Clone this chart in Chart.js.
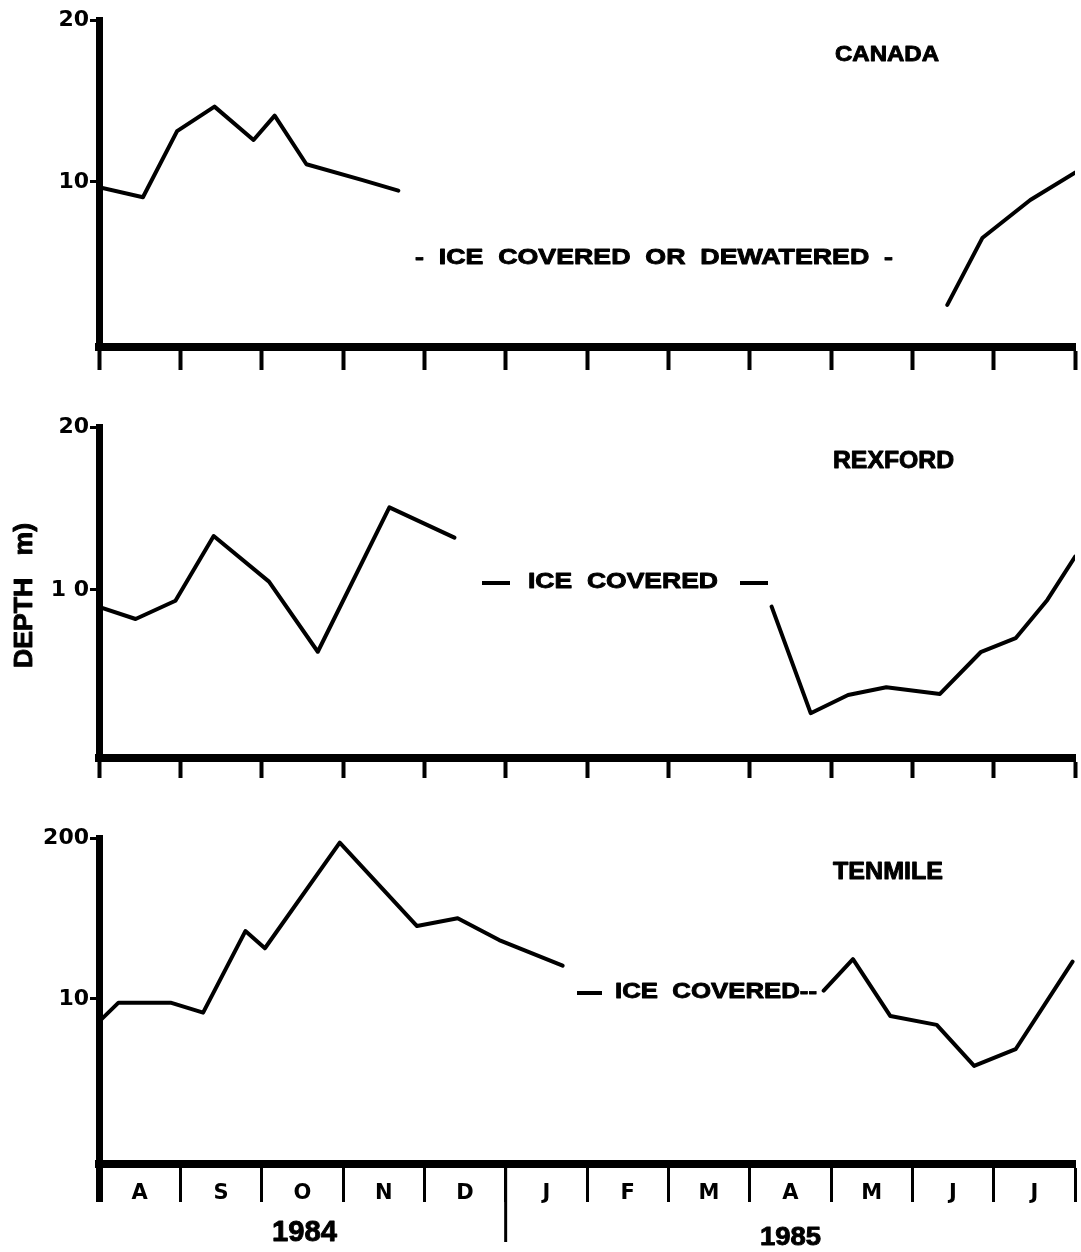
<!DOCTYPE html>
<html><head><meta charset="utf-8">
<script src="https://cdn.jsdelivr.net/npm/chart.js@4.4.1/dist/chart.umd.min.js"></script>
<style>
html,body{margin:0;padding:0;background:#fff;width:1081px;height:1252px;overflow:hidden}
canvas{position:absolute;left:0}
</style></head><body>
<canvas id="c1" width="1081" height="400" style="top:0px"></canvas>
<canvas id="c2" width="1081" height="400" style="top:400px"></canvas>
<canvas id="c3" width="1081" height="452" style="top:800px"></canvas>
<script>
// ---- data (months from start of August 1984) ----
const months = ['A','S','O','N','D','J','F','M','A','M','J','J'];
const years = ['1984','1985'];

const canadaFallMonth = [0.0, 0.54, 0.96, 1.42, 1.90, 2.16, 2.55, 3.23, 3.68];
const canadaFallDepth = [9.67, 9.05, 13.14, 14.65, 12.59, 14.09, 11.09, 10.12, 9.46];
const canadaSpringMonth = [10.43, 10.86, 11.45, 12.0];
const canadaSpringDepth = [2.40, 6.53, 8.88, 10.57];

const rexfordFallMonth = [0.0, 0.45, 0.94, 1.41, 2.09, 2.69, 3.57, 4.37];
const rexfordFallDepth = [8.96, 8.22, 9.34, 13.31, 10.51, 6.21, 15.07, 13.21];
const rexfordSpringMonth = [8.27, 8.75, 9.21, 9.68, 10.34, 10.84, 11.27, 11.66, 12.0];
const rexfordSpringDepth = [8.98, 2.44, 3.56, 4.03, 3.62, 6.18, 7.04, 9.39, 12.04];

const tenmileFallMonth = [0.0, 0.24, 0.88, 1.28, 1.80, 2.04, 2.96, 3.91, 4.41, 4.92, 5.70];
const tenmileFallDepth = [8.59, 9.77, 9.77, 9.15, 14.22, 13.15, 19.71, 14.53, 15.01, 13.66, 12.07];
const tenmileSpringMonth = [8.91, 9.27, 9.73, 10.30, 10.76, 11.27, 11.97];
const tenmileSpringDepth = [10.52, 12.47, 8.94, 8.39, 5.84, 6.88, 12.32];

const canadaYTicks = ['10', '20'];
const rexfordYTicks = ['1 0', '20'];
const tenmileYTicks = ['10', '200'];

const panelNames = ['CANADA', 'REXFORD', 'TENMILE'];
const iceNotes = ['-  ICE  COVERED  OR  DEWATERED  -', 'ICE  COVERED', 'ICE  COVERED--'];
const yTitle = 'DEPTH   m)';

// ---- helpers ----
const FONT = '"Liberation Sans", Arial, Helvetica, sans-serif';
function pts(xs, ys){ return xs.map((x,i)=>({x:x, y:ys[i]})); }
function fitText(ctx, text, left, right, baseline, size){
  ctx.save();
  ctx.font = 'bold ' + size + 'px ' + FONT;
  ctx.textAlign = 'left'; ctx.textBaseline = 'alphabetic';
  ctx.fillStyle = '#000'; ctx.strokeStyle = '#000'; ctx.lineWidth = 0.9; ctx.lineJoin = 'round';
  const w = ctx.measureText(text).width;
  ctx.translate(left, baseline);
  ctx.scale((right-left)/w, 1);
  ctx.fillText(text, 0, 0);
  ctx.strokeText(text, 0, 0);
  ctx.restore();
}
function hline(ctx, x1, x2, y){
  ctx.save(); ctx.strokeStyle='#000'; ctx.lineWidth=4; ctx.lineCap='butt';
  ctx.beginPath(); ctx.moveTo(x1,y); ctx.lineTo(x2,y); ctx.stroke(); ctx.restore();
}

function makePanel(id, cfg){
  const ds = cfg.segments.map(s => ({
    data: s, borderColor:'#000', borderWidth:4, pointRadius:0, tension:0,
    borderCapStyle:'round', borderJoinStyle:'round', fill:false
  }));
  return new Chart(document.getElementById(id), {
    type:'line',
    data:{ datasets: ds },
    options:{
      responsive:false, animation:false, devicePixelRatio:1,
      layout:{ padding:{ top:cfg.top, right:6, left:0, bottom:0 } },
      plugins:{ legend:{display:false}, tooltip:{enabled:false} },
      scales:{
        x:{
          type:'linear', min:0, max:12,
          afterFit: s => { s.height = cfg.xAxisHeight; },
          afterBuildTicks: s => {
            const t = [];
            for (let i=0;i<=12;i+=cfg.step) t.push({value:i});
            s.ticks = t;
          },
          border:{ display:true, color:'#000', width:8 },
          grid:{ drawOnChartArea:false, drawTicks:true, tickLength:cfg.tickLength,
            tickColor: c => Number.isInteger(c.tick.value) ? '#000' : 'rgba(0,0,0,0)',
            tickWidth: c => (c.tick.value===0 && cfg.monthLabels) ? 7 : cfg.tickWidth },
          ticks:{ autoSkip:false, maxRotation:0, minRotation:0, padding:cfg.labelPad,
            color:'#000', font:{ family:'"DejaVu Sans", sans-serif', weight:'bold', size:21 },
            callback: v => (cfg.monthLabels && !Number.isInteger(v)) ? months[Math.floor(v)] : '' }
        },
        y:{
          type:'linear', min:cfg.yMin, max:20,
          afterFit: s => { s.width = 99; },
          afterBuildTicks: s => { s.ticks = [{value:10},{value:20}]; },
          border:{ display:true, color:'#000', width:7 },
          grid:{ drawOnChartArea:false, drawTicks:true, tickLength:9, tickWidth:3, tickColor:'#000' },
          ticks:{ padding:1, color:'#000', font:{ family:'"DejaVu Sans", sans-serif', weight:'bold', size:22 },
            callback: v => cfg.yLabels[v===10 ? 0 : 1] }
        }
      }
    },
    plugins:[{ id:'annot', afterDraw: chart => cfg.annotate(chart, chart.ctx, cfg.offset) }]
  });
}

makePanel('c1', {
  offset:0, top:20, xAxisHeight:53, yMin:-0.2, step:1, tickLength:23, tickWidth:4,
  labelPad:0, monthLabels:false, yLabels:canadaYTicks,
  segments:[pts(canadaFallMonth, canadaFallDepth), pts(canadaSpringMonth, canadaSpringDepth)],
  annotate:(chart, ctx, T) => {
    fitText(ctx, panelNames[0], 835, 939, 61-T, 22);
    fitText(ctx, iceNotes[0], 415, 893, 264-T, 22);
  }
});

makePanel('c2', {
  offset:400, top:27, xAxisHeight:42, yMin:-0.31, step:1, tickLength:20, tickWidth:4,
  labelPad:0, monthLabels:false, yLabels:rexfordYTicks,
  segments:[pts(rexfordFallMonth, rexfordFallDepth), pts(rexfordSpringMonth, rexfordSpringDepth)],
  annotate:(chart, ctx, T) => {
    fitText(ctx, panelNames[1], 833, 954, 468-T, 23);
    hline(ctx, 482, 510, 583-T);
    fitText(ctx, iceNotes[1], 528, 718, 588-T, 22);
    hline(ctx, 740, 768, 583-T);
    ctx.save();
    ctx.translate(32, 668-T);
    ctx.rotate(-Math.PI/2);
    fitText(ctx, yTitle, 0, 145, 0, 25);
    ctx.restore();
  }
});

makePanel('c3', {
  offset:800, top:38, xAxisHeight:88, yMin:-0.25, step:0.5, tickLength:38, tickWidth:3,
  labelPad:-21, monthLabels:true, yLabels:tenmileYTicks,
  segments:[pts(tenmileFallMonth, tenmileFallDepth), pts(tenmileSpringMonth, tenmileSpringDepth)],
  annotate:(chart, ctx, T) => {
    fitText(ctx, panelNames[2], 833, 943, 879-T, 23);
    hline(ctx, 577, 602, 993-T);
    fitText(ctx, iceNotes[2], 615, 817, 998-T, 22);
    fitText(ctx, years[0], 272, 337, 1241-T, 30);
    fitText(ctx, years[1], 760, 821, 1245-T, 25);
    const xs = chart.scales.x.getPixelForValue(5);
    ctx.save(); ctx.strokeStyle='#000'; ctx.lineWidth=3;
    ctx.beginPath(); ctx.moveTo(xs, chart.chartArea.bottom); ctx.lineTo(xs, 1242-T); ctx.stroke();
    ctx.restore();
  }
});
</script>
</body></html>
